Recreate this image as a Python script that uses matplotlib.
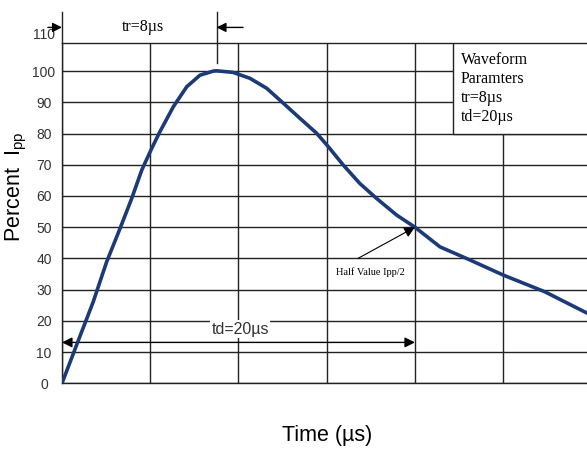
import numpy as np
import matplotlib
matplotlib.use('Agg')
import matplotlib.pyplot as plt
from matplotlib.patches import Rectangle

# waveform (time in us, percent of Ipp)
time_us = [0, 0.83, 1.77, 2.53, 3.29, 3.95, 4.52, 5.08, 5.55, 6.31, 7.07,
           7.82, 8.57, 8.76, 9.69, 10.65, 11.6, 12.35, 13.48, 14.43, 15.09,
           15.94, 16.88, 17.83, 18.96, 20.0, 21.42, 23.12, 24.99, 27.37, 29.75]
percent = [0, 12.3, 26.1, 38.9, 49.6, 59.2, 68.3, 75.2, 80.6, 88.6, 95.0,
           98.7, 100.0, 100.1, 99.6, 97.7, 94.5, 90.7, 84.9, 80.1, 75.8,
           69.9, 64.0, 59.2, 53.9, 50.0, 43.7, 39.5, 34.7, 29.3, 22.5]

y_ticks = [0, 10, 20, 30, 40, 50, 60, 70, 80, 90, 100]
x_grid = [0, 5, 10, 15, 20, 25]
tr = 8
td = 20

serif = ['Liberation Serif', 'DejaVu Serif']
sans = ['Liberation Sans', 'DejaVu Sans']

fig = plt.figure(figsize=(5.87, 4.51), dpi=100)
ax = fig.add_axes([0.1056, 0.1501, 0.8944, 0.7552])

ax.plot(time_us, percent, color='#1c3a78', linewidth=2.6, zorder=4,
        solid_capstyle='round', solid_joinstyle='round')

ax.set_xlim(0, 29.75)
ax.set_ylim(0, 109.1)
ax.set_xticks(x_grid)
ax.set_yticks(y_ticks)
ax.set_xticklabels([])
ax.grid(True, color='#222222', linewidth=1.0)
ax.set_axisbelow(True)
ax.tick_params(axis='both', length=0)
ax.tick_params(axis='y', pad=13, labelsize=10, labelcolor='#333333')
for lab in ax.get_yticklabels():
    lab.set_horizontalalignment('center')
    lab.set_family(sans)
ax.text(-0.034, 111.5, '110', transform=ax.get_yaxis_transform(),
        ha='center', va='center', fontsize=10, color='#333333',
        family=sans, clip_on=False)

for side in ['top', 'left', 'bottom']:
    ax.spines[side].set_color('#222222')
    ax.spines[side].set_linewidth(1.0)
ax.spines['right'].set_visible(False)

ax.set_xlabel('Time (\u00b5s)', fontsize=15.5, family=sans, va='center')
ax.xaxis.set_label_coords(0.505, -0.152)
ax.set_ylabel('Percent  $\\mathregular{I_{pp}}$', fontsize=15.5, family=sans,
              va='center', ha='center')
ax.yaxis.set_label_coords(-0.087, 0.576)

# waveform parameter box
box = Rectangle((22.15, 79.8), 10, 40, facecolor='white', edgecolor='#222222',
                linewidth=1.0, zorder=2)
ax.add_patch(box)
ax.text(22.6, 106.2, 'Waveform\nParamters\ntr=%d\u00b5s\ntd=%d\u00b5s' % (tr, td),
        ha='left', va='top', fontsize=11.5, family=serif, linespacing=1.25,
        zorder=3)

# rise time marker above the plot
t_peak = time_us[int(np.argmax(percent))]
ax.plot([0, 0], [109.1, 119.0], color='#222222', linewidth=1.0, clip_on=False)
ax.plot([t_peak, t_peak], [102.7, 119.0], color='#222222', linewidth=1.0,
        clip_on=False)
ax.annotate('', xy=(0, 114.0), xytext=(-0.8, 114.0),
            arrowprops=dict(arrowstyle='-|>', color='black', lw=1.0,
                            mutation_scale=14, shrinkA=0, shrinkB=0),
            annotation_clip=False)
ax.annotate('', xy=(t_peak, 114.0), xytext=(t_peak + 1.5, 114.0),
            arrowprops=dict(arrowstyle='-|>', color='black', lw=1.0,
                            mutation_scale=14, shrinkA=0, shrinkB=0),
            annotation_clip=False)
ax.text(4.6, 114.2, 'tr=%d\u00b5s' % tr, ha='center', va='center',
        fontsize=11.5, family=serif, clip_on=False)

# decay time arrow
ax.annotate('', xy=(td, 13.1), xytext=(0, 13.1),
            arrowprops=dict(arrowstyle='<|-|>', color='black', lw=1.0,
                            mutation_scale=15, shrinkA=0, shrinkB=0),
            zorder=3)
ax.text(10.1, 17.3, 'td=%d\u00b5s' % td, ha='center', va='center',
        fontsize=11.5, family=sans, zorder=3, color='#333333',
        bbox=dict(facecolor='white', edgecolor='none', pad=1))

# half value annotation
half = percent[time_us.index(td)]
ax.annotate('', xy=(td, half), xytext=(16.77, 40.0),
            arrowprops=dict(arrowstyle='-|>', color='black', lw=0.8,
                            mutation_scale=16, shrinkA=0, shrinkB=0),
            zorder=5)
ax.text(17.45, 35.6, 'Half Value Ipp/2', ha='center', va='center',
        fontsize=7.5, family=serif, zorder=5)

fig.savefig('out.png', dpi=100)
